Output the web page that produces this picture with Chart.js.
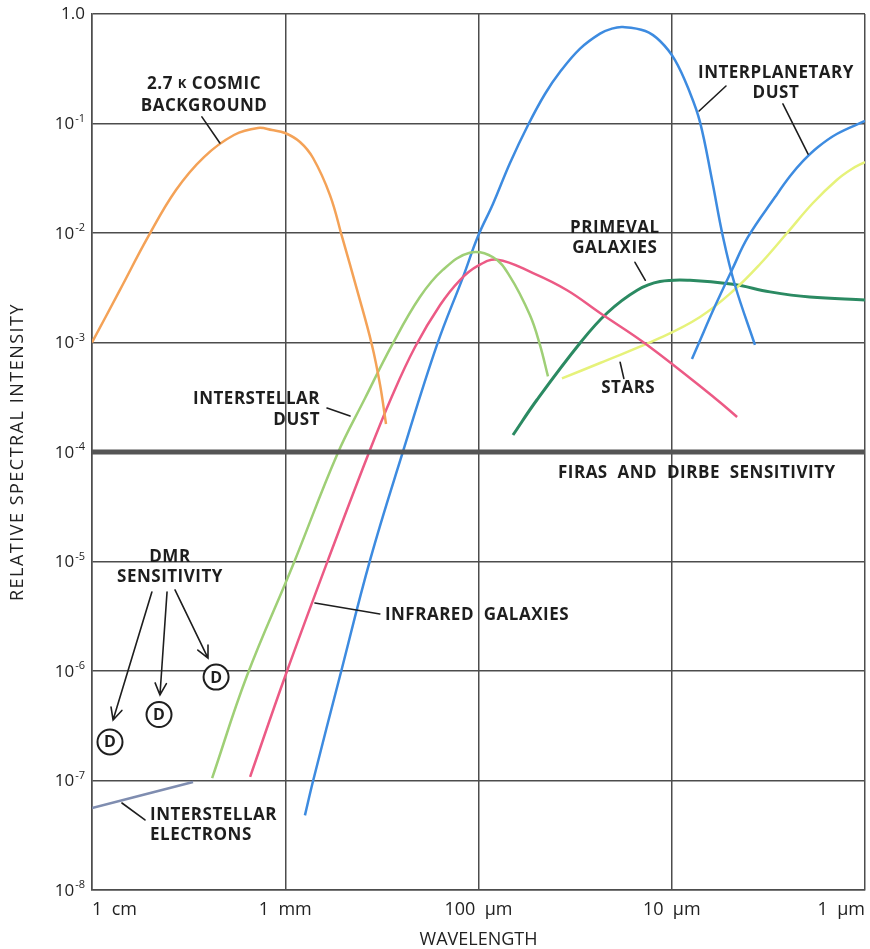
<!DOCTYPE html>
<html>
<head>
<meta charset="utf-8">
<title>Relative spectral intensity vs wavelength</title>
<script src="https://cdn.jsdelivr.net/npm/chart.js@4.4.1/dist/chart.umd.min.js"></script>
<style>
  html, body { margin: 0; padding: 0; background: #fff; }
</style>
</head>
<body>
<canvas id="spectrum" width="870" height="949"></canvas>
<script>
// wavelengths are in µm, intensities are relative

// axis ticks
const xTicks = [1, 10, 100, 1000, 10000];
const xTickLabels = ["1  µm", "10  µm", "100  µm", "1  mm", "1  cm"];
const yTicks = [1, 1e-1, 1e-2, 1e-3, 1e-4, 1e-5, 1e-6, 1e-7, 1e-8];
const yTickExp = [0, -1, -2, -3, -4, -5, -6, -7, -8];

// 2.7 K cosmic background
const cosmicWl = [10000, 7165, 5130, 3676, 2633, 1842, 1384, 1171, 1002, 839, 718, 587, 508, 425, 356, 323, 301];
const cosmicI = [1e-3, 3.02e-3, 9.2e-3, 2.47e-2, 4.94e-2, 7.85e-2, 9.1e-2, 8.72e-2, 8.19e-2, 6.78e-2, 4.84e-2, 2.22e-2, 9.2e-3, 3.02e-3, 9.5e-4, 4.09e-4, 1.8e-4];

// interstellar dust
const dustWl = [2390, 1580, 912, 540, 386, 280, 201, 153, 111, 84, 68.7, 54.2, 48.1, 43.7];
const dustI = [1.05e-7, 9e-7, 9.3e-6, 9.4e-5, 3.11e-4, 9.5e-4, 2.6e-3, 4.6e-3, 6.6e-3, 6.0e-3, 4.0e-3, 1.78e-3, 9.5e-4, 4.9e-4];

// infrared galaxies
const irGalWl = [1520, 1000, 601, 373, 280, 213, 158, 125, 101, 80, 52.2, 34.8, 23.5, 13.4, 5.97, 4.59];
const irGalI = [1.08e-7, 9e-7, 1.03e-5, 9.4e-5, 3.25e-4, 9.1e-4, 2.2e-3, 3.7e-3, 5.0e-3, 5.7e-3, 4.3e-3, 3.0e-3, 1.86e-3, 9.5e-4, 3.1e-4, 2.09e-4];

// interplanetary dust, thermal emission
const zodiWl = [791, 718, 521, 364, 249, 164, 120, 101, 84.2, 68.7, 55.4, 45.3, 37.9, 29.8, 23.5, 20.4, 17.9, 13.7, 11.5, 9.62, 8.04, 7.14, 6.19, 5.43, 4.71, 3.71];
const zodiI = [4.8e-8, 9.9e-8, 9e-7, 1.03e-5, 9.4e-5, 9.5e-4, 4.0e-3, 9.2e-3, 1.84e-2, 4.36e-2, 9.69e-2, 0.186, 0.295, 0.483, 0.662, 0.736, 0.76, 0.70, 0.567, 0.380, 0.190, 0.103, 3.05e-2, 9.2e-3, 3.35e-3, 9.5e-4];

// interplanetary dust, scattered light
const scatWl = [7.86, 7.31, 5.97, 4.88, 4.03, 2.92, 2.44, 2.09, 1.75, 1.40, 1.0];
const scatI = [7.07e-4, 9.5e-4, 2.15e-3, 4.6e-3, 9.2e-3, 2.13e-2, 3.31e-2, 4.55e-2, 6.1e-2, 8.02e-2, 0.1054];

// stars
const starsWl = [37.0, 23.5, 11.5, 7.14, 4.82, 3.49, 2.53, 1.86, 1.40, 1.17, 1.0];
const starsI = [4.7e-4, 6.5e-4, 1.1e-3, 1.71e-3, 2.95e-3, 5.21e-3, 1.0e-2, 1.88e-2, 3.05e-2, 3.84e-2, 4.45e-2];

// primeval galaxies
const primWl = [66.3, 49.8, 29.8, 21.6, 15.1, 11.5, 8.05, 4.82, 3.10, 1.93, 1.0];
const primI = [1.43e-4, 3.0e-4, 9.9e-4, 1.86e-3, 3.0e-3, 3.6e-3, 3.7e-3, 3.4e-3, 2.9e-3, 2.6e-3, 2.45e-3];

// interstellar electrons
const elecWl = [10000, 3000];
const elecI = [5.6e-8, 9.7e-8];

// DMR sensitivity points
const dmrWl = [8070, 4500, 2280];
const dmrI = [2.25e-7, 4.0e-7, 8.8e-7];

// FIRAS and DIRBE sensitivity level
const firasWl = [10000, 1];
const firasI = [1e-4, 1e-4];

// text labels (anchored in data coordinates)
const notes = [
  { t: [["2.7 ", 17], ["K", 13], [" COSMIC", 17]], x: 2630, y: 0.23, align: "center" },
  { t: "BACKGROUND", x: 2630, y: 0.145, align: "center" },
  { t: "INTERSTELLAR", x: 661, y: 3.05e-4, align: "right" },
  { t: "DUST", x: 661, y: 1.96e-4, align: "right" },
  { t: "PRIMEVAL", x: 19.7, y: 0.0111, align: "center" },
  { t: "GALAXIES", x: 19.7, y: 7.3e-3, align: "center" },
  { t: "INTERPLANETARY", x: 2.89, y: 0.289, align: "center" },
  { t: "DUST", x: 2.89, y: 0.19, align: "center" },
  { t: "STARS", x: 16.8, y: 3.84e-4, align: "center" },
  { t: "FIRAS  AND  DIRBE  SENSITIVITY", x: 38.8, y: 6.4e-5, align: "left" },
  { t: "INFRARED  GALAXIES", x: 305, y: 3.25e-6, align: "left" },
  { t: "DMR", x: 3950, y: 1.1e-5, align: "center" },
  { t: "SENSITIVITY", x: 3950, y: 7.2e-6, align: "center" },
  { t: "INTERSTELLAR", x: 5010, y: 4.84e-8, align: "left" },
  { t: "ELECTRONS", x: 5010, y: 3.18e-8, align: "left" }
];

const leaders = [
  [2700, 0.115, 2180, 0.0664],
  [608, 2.52e-4, 462, 2.13e-4],
  [15.5, 5.4e-3, 13.7, 3.7e-3],
  [5.24, 0.22, 7.22, 0.13],
  [2.66, 0.151, 1.97, 0.0526],
  [18.5, 6.6e-4, 17.7, 4.7e-4],
  [702, 4.18e-6, 324, 3.32e-6],
  [7000, 6.23e-8, 5320, 4.36e-8]
];

const arrows = [
  [4900, 5.26e-6, 7780, 3.57e-7],
  [4090, 5.26e-6, 4450, 6.04e-7],
  [3720, 5.5e-6, 2510, 1.31e-6]
];

const gridColor = "#4d4d4d";
const ink = "#1e1e1e";
const family = '"Open Sans", sans-serif';

function pts(xs, ys) {
  return xs.map((x, i) => ({ x: x, y: ys[i] }));
}

function curve(label, xs, ys, color, width) {
  return {
    label: label,
    data: pts(xs, ys),
    borderColor: color,
    borderWidth: width || 2.5,
    pointRadius: 0,
    fill: false,
    tension: 0.4
  };
}

const datasets = [
  curve("FIRAS and DIRBE sensitivity", firasWl, firasI, "#555555", 5),
  curve("2.7 K cosmic background", cosmicWl, cosmicI, "#f4a257"),
  curve("Interstellar dust", dustWl, dustI, "#9fcf76"),
  curve("Infrared galaxies", irGalWl, irGalI, "#ec5a85"),
  curve("Interplanetary dust", zodiWl, zodiI, "#3d8be0"),
  curve("Interplanetary dust (scattered)", scatWl, scatI, "#3d8be0"),
  curve("Stars", starsWl, starsI, "#e6f27a"),
  curve("Primeval galaxies", primWl, primI, "#2b8a62", 3),
  curve("Interstellar electrons", elecWl, elecI, "#7f8db0"),
  {
    label: "DMR sensitivity",
    data: pts(dmrWl, dmrI),
    showLine: false,
    pointRadius: 12.5,
    pointStyle: "circle",
    pointBackgroundColor: "#ffffff",
    pointBorderColor: ink,
    pointBorderWidth: 2
  }
];
const dmrIndex = datasets.length - 1;

function drawRuns(ctx, runs, x, y, align) {
  ctx.letterSpacing = "0.5px";
  let total = 0;
  runs.forEach(r => { ctx.font = "700 " + r[1] + "px " + family; total += ctx.measureText(r[0]).width; });
  let cx = align === "center" ? x - total / 2 : align === "right" ? x - total : x;
  ctx.textAlign = "left";
  runs.forEach(r => {
    ctx.font = "700 " + r[1] + "px " + family;
    ctx.fillText(r[0], cx, y);
    cx += ctx.measureText(r[0]).width;
  });
  ctx.letterSpacing = "0px";
}

const annotate = {
  id: "annotate",
  afterDatasetsDraw(chart) {
    const { ctx, scales } = chart;
    const X = v => scales.x.getPixelForValue(v);
    const Y = v => scales.y.getPixelForValue(v);
    ctx.save();
    ctx.fillStyle = ink;
    ctx.strokeStyle = ink;
    ctx.lineWidth = 1.6;
    ctx.lineCap = "round";

    leaders.forEach(l => {
      ctx.beginPath();
      ctx.moveTo(X(l[0]), Y(l[1]));
      ctx.lineTo(X(l[2]), Y(l[3]));
      ctx.stroke();
    });

    arrows.forEach(a => {
      const x0 = X(a[0]), y0 = Y(a[1]), x1 = X(a[2]), y1 = Y(a[3]);
      const ang = Math.atan2(y1 - y0, x1 - x0);
      ctx.beginPath();
      ctx.moveTo(x0, y0);
      ctx.lineTo(x1, y1);
      ctx.moveTo(x1 - 13 * Math.cos(ang - 0.45), y1 - 13 * Math.sin(ang - 0.45));
      ctx.lineTo(x1, y1);
      ctx.lineTo(x1 - 13 * Math.cos(ang + 0.45), y1 - 13 * Math.sin(ang + 0.45));
      ctx.stroke();
    });

    ctx.textBaseline = "middle";
    ctx.textAlign = "center";
    ctx.font = "700 16px " + family;
    chart.getDatasetMeta(dmrIndex).data.forEach(p => {
      ctx.fillText("D", p.x, p.y + 1);
    });

    notes.forEach(n => {
      const runs = typeof n.t === "string" ? [[n.t, 17]] : n.t;
      drawRuns(ctx, runs, X(n.x), Y(n.y), n.align);
    });
    ctx.restore();
  },
  afterDraw(chart) {
    const { ctx, chartArea, scales } = chart;
    ctx.save();
    ctx.fillStyle = "#222";
    ctx.textBaseline = "middle";

    // y tick labels with superscript exponents
    const right = chartArea.left - 7;
    yTicks.forEach((v, i) => {
      const yy = scales.y.getPixelForValue(v);
      if (yTickExp[i] === 0) {
        ctx.font = "17px " + family;
        ctx.textAlign = "right";
        ctx.fillText("1.0", right, yy);
        return;
      }
      const sup = String(yTickExp[i]);
      ctx.font = "11px " + family;
      const sw = ctx.measureText(sup).width;
      ctx.textAlign = "right";
      ctx.fillText(sup, right, yy - 5);
      ctx.font = "17px " + family;
      ctx.fillText("10", right - sw - 1, yy + 1);
    });

    // axis titles
    ctx.font = "18px " + family;
    ctx.textAlign = "center";
    ctx.fillText("WAVELENGTH", (chartArea.left + chartArea.right) / 2, 940);
    ctx.translate(18, (chartArea.top + chartArea.bottom) / 2);
    ctx.rotate(-Math.PI / 2);
    ctx.letterSpacing = "1.5px";
    ctx.fillText("RELATIVE SPECTRAL INTENSITY", 0, 0);
    ctx.restore();
  }
};

const ctx = document.getElementById("spectrum").getContext("2d");
const spectrumChart = new Chart(ctx, {
  type: "line",
  data: { datasets: datasets },
  plugins: [annotate],
  options: {
    responsive: false,
    animation: false,
    layout: { autoPadding: false, padding: { left: 0, right: 5, top: 14, bottom: 0 } },
    plugins: { legend: { display: false }, tooltip: { enabled: false } },
    scales: {
      x: {
        type: "logarithmic",
        reverse: true,
        min: 1,
        max: 10000,
        afterBuildTicks: s => { s.ticks = xTicks.map(v => ({ value: v })); },
        afterFit: s => { s.height = 59; s.paddingLeft = 0; s.paddingRight = 0; },
        grid: { color: gridColor, lineWidth: 1.5, drawTicks: false },
        border: { color: gridColor, width: 1.5 },
        ticks: {
          autoSkip: false,
          maxRotation: 0,
          align: "inner",
          padding: 9,
          color: "#222",
          font: { family: "Open Sans", size: 18 },
          callback: v => xTickLabels[xTicks.indexOf(v)]
        }
      },
      y: {
        type: "logarithmic",
        min: 1e-8,
        max: 1,
        afterBuildTicks: s => { s.ticks = yTicks.slice().reverse().map(v => ({ value: v })); },
        afterFit: s => { s.width = 92; },
        grid: { color: gridColor, lineWidth: 1.5, drawTicks: false },
        border: { color: gridColor, width: 1.5 },
        ticks: { display: false }
      }
    }
  }
});
</script>
</body>
</html>
